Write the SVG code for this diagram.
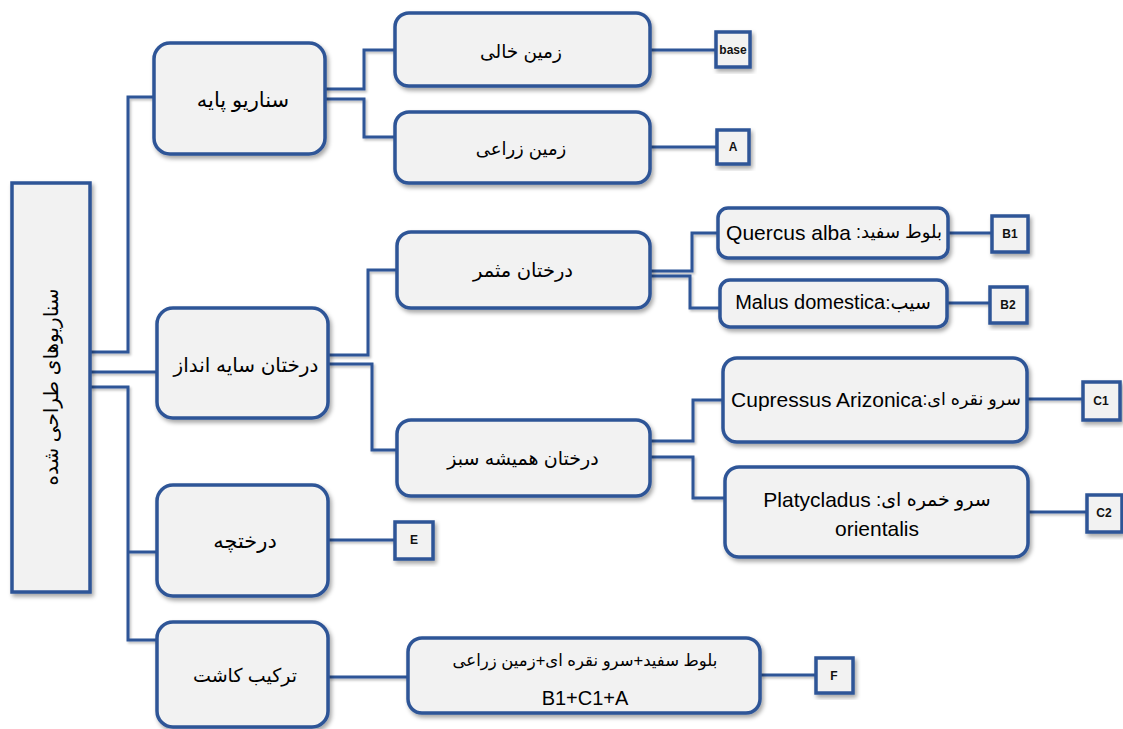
<svg xmlns="http://www.w3.org/2000/svg" width="1123" height="729" viewBox="0 0 1123 729">
<defs>
<filter id="sh" x="-20%" y="-20%" width="140%" height="140%">
<feDropShadow dx="2" dy="3" stdDeviation="2" flood-color="#000" flood-opacity="0.35"/>
</filter>
<filter id="lsh" x="-5%" y="-5%" width="110%" height="110%">
<feDropShadow dx="1.5" dy="2" stdDeviation="1.2" flood-color="#000" flood-opacity="0.25"/>
</filter>
</defs>
<style>
.box{fill:#f2f2f2;stroke:#2f5597;stroke-width:3.5;filter:url(#sh)}
.tag{fill:#f2f2f2;stroke:#2f5597;stroke-width:3.5;filter:url(#sh)}
.c{fill:none;stroke:#2f5597;stroke-width:3;stroke-linejoin:miter}
.t{font-family:"Liberation Sans","DejaVu Sans",sans-serif;font-size:19px;fill:#000;text-anchor:middle;dominant-baseline:central}
.fa{direction:rtl;unicode-bidi:embed}
.la{font-size:21px}
.s{font-family:"Liberation Sans","DejaVu Sans",sans-serif;font-size:12px;font-weight:bold;fill:#111;text-anchor:middle;dominant-baseline:central}
</style>
<rect width="1123" height="729" fill="#fff"/>
<g id="connectors" filter="url(#lsh)">
<path class="c" d="M90 352 H128 V97 H154"/>
<path class="c" d="M90 372 H157"/>
<path class="c" d="M90 387 H128 V640 H157"/>
<path class="c" d="M128 552 H157"/>
<path class="c" d="M325 89 H364 V50 H395"/>
<path class="c" d="M325 99 H364 V137 H395"/>
<path class="c" d="M650 50 H716"/>
<path class="c" d="M650 147 H717"/>
<path class="c" d="M328 355 H368 V270 H397"/>
<path class="c" d="M328 364 H372 V450 H397"/>
<path class="c" d="M650 271 H692 V233 H718"/>
<path class="c" d="M650 276 H690 V308 H720"/>
<path class="c" d="M948 233 H992"/>
<path class="c" d="M947 303 H990"/>
<path class="c" d="M650 441 H693 V400 H723"/>
<path class="c" d="M650 457 H693 V498 H725"/>
<path class="c" d="M1027 399 H1083"/>
<path class="c" d="M1028 512 H1087"/>
<path class="c" d="M328 540 H395"/>
<path class="c" d="M328 677 H408"/>
<path class="c" d="M760 675 H816"/>
</g>
<g id="root">
<rect class="box" x="12" y="183" width="78" height="409"/>
<text class="t fa" transform="translate(51 387) rotate(-90)" style="font-size:20px">سناریوهای طراحی شده</text>
</g>
<g id="n-base-scenario">
<rect class="box" x="154" y="43" width="171" height="111" rx="16"/>
<text class="t fa" x="243" y="99" style="font-size:21px">سناریو پایه</text>
</g>
<g id="n-empty-land">
<rect class="box" x="395" y="13" width="255" height="73" rx="14"/>
<text class="t fa" x="521" y="51" style="font-size:18.5px">زمین خالی</text>
</g>
<g id="n-farm-land">
<rect class="box" x="395" y="112" width="255" height="71" rx="14"/>
<text class="t fa" x="521" y="149" style="font-size:18px">زمین زراعی</text>
</g>
<g id="t-base">
<rect class="tag" x="716" y="32" width="34" height="35"/>
<text class="s" x="733" y="50">base</text>
</g>
<g id="t-A">
<rect class="tag" x="717" y="130" width="32" height="34"/>
<text class="s" x="733" y="147">A</text>
</g>
<g id="n-shade-trees">
<rect class="box" x="157" y="308" width="171" height="110" rx="16"/>
<text class="t fa" x="246" y="365" style="font-size:20px">درختان سایه انداز</text>
</g>
<g id="n-fruit-trees">
<rect class="box" x="397" y="232" width="253" height="76" rx="14"/>
<text class="t fa" x="523" y="270" style="font-size:19.5px">درختان مثمر</text>
</g>
<g id="n-evergreen">
<rect class="box" x="397" y="420" width="253" height="76" rx="14"/>
<text class="t fa" x="523" y="458">درختان همیشه سبز</text>
</g>
<g id="n-quercus">
<rect class="box" x="718" y="208" width="230" height="50" rx="10"/>
<text class="t fa" x="834" y="232" style="font-size:18px">بلوط سفید: <tspan class="la">Quercus alba</tspan></text>
</g>
<g id="n-malus">
<rect class="box" x="720" y="280" width="227" height="47" rx="10"/>
<text class="t fa" x="833" y="302">سیب:<tspan style="font-size:20px">Malus domestica</tspan></text>
</g>
<g id="t-B1">
<rect class="tag" x="992" y="216" width="36" height="36"/>
<text class="s" x="1010" y="234">B1</text>
</g>
<g id="t-B2">
<rect class="tag" x="990" y="287" width="37" height="36"/>
<text class="s" x="1008" y="305">B2</text>
</g>
<g id="n-cupressus">
<rect class="box" x="723" y="358" width="304" height="84" rx="14"/>
<text class="t fa" x="876" y="399" style="font-size:17.5px">سرو نقره ای:<tspan class="la">Cupressus Arizonica</tspan></text>
</g>
<g id="n-platycladus">
<rect class="box" x="725" y="467" width="303" height="90" rx="14"/>
<text class="t fa" x="877" y="499">سرو خمره ای: <tspan class="la">Platycladus</tspan></text>
<text class="t la" x="877" y="528">orientalis</text>
</g>
<g id="t-C1">
<rect class="tag" x="1083" y="382" width="37" height="38"/>
<text class="s" x="1101" y="401">C1</text>
</g>
<g id="t-C2">
<rect class="tag" x="1087" y="495" width="35" height="37"/>
<text class="s" x="1104" y="513">C2</text>
</g>
<g id="n-shrub">
<rect class="box" x="157" y="485" width="171" height="111" rx="16"/>
<text class="t fa" x="245" y="540" style="font-size:21px">درختچه</text>
</g>
<g id="t-E">
<rect class="tag" x="395" y="522" width="38" height="37"/>
<text class="s" x="414" y="540">E</text>
</g>
<g id="n-combo">
<rect class="box" x="157" y="622" width="171" height="105" rx="16"/>
<text class="t fa" x="245" y="675">ترکیب کاشت</text>
</g>
<g id="n-combo-detail">
<rect class="box" x="408" y="638" width="352" height="75" rx="14"/>
<text class="t fa" x="585" y="660" style="font-size:16.5px">بلوط سفید+سرو نقره ای+زمین زراعی</text>
<text class="t" x="585" y="698" style="font-size:20px">B1+C1+A</text>
</g>
<g id="t-F">
<rect class="tag" x="816" y="658" width="37" height="35"/>
<text class="s" x="834" y="676">F</text>
</g>
</svg>
